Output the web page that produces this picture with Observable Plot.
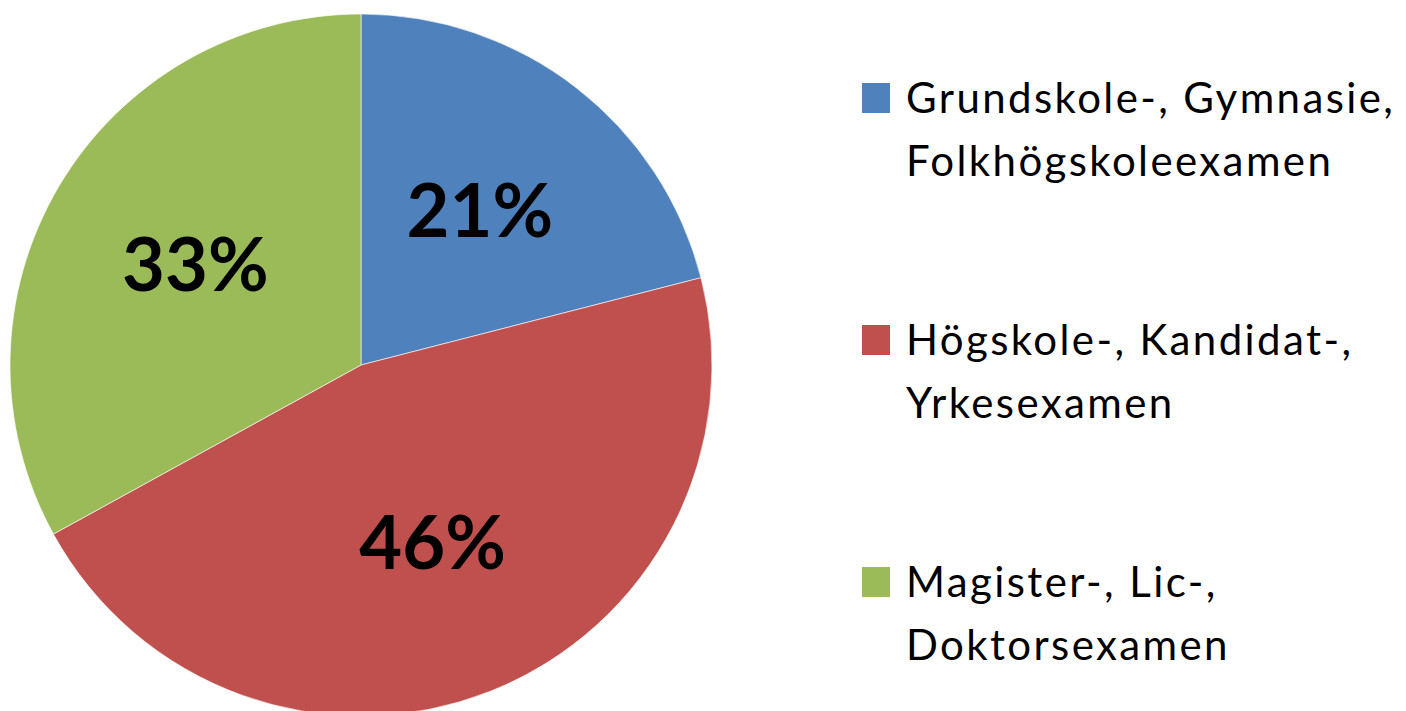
<!DOCTYPE html>
<html><head><meta charset="utf-8">
<script src="https://cdn.jsdelivr.net/npm/d3@7"></script>
<script src="https://cdn.jsdelivr.net/npm/@observablehq/plot@0.6"></script>
<style>
html,body{margin:0;padding:0;background:#fff;}
#chart{width:1406px;height:711px;overflow:hidden;}
</style>
</head><body><div id="chart"></div>
<script>
// ---- data ----
const categories = [
  "Grundskole-, Gymnasie, Folkhögskoleexamen",
  "Högskole-, Kandidat-, Yrkesexamen",
  "Magister-, Lic-, Doktorsexamen"
];
const legendLines = [
  ["Grundskole-, Gymnasie,", "Folkhögskoleexamen"],
  ["Högskole-, Kandidat-,", "Yrkesexamen"],
  ["Magister-, Lic-,", "Doktorsexamen"]
];
const shares = [21, 46, 33];
const percentLabels = ["21%", "46%", "33%"];
const colors = ["#4F81BD", "#C0504D", "#9BBB59"];

// ---- build ----
const data = categories.map((c, i) => ({category: c, share: shares[i], label: percentLabels[i], lines: legendLines[i]}));
const arcs = d3.pie().sort(null).value(d => d.share)(data);
const labelR = 0.55;
const slices = arcs.map(a => {
  const mid = (a.startAngle + a.endAngle) / 2;
  return {...a.data, startAngle: a.startAngle, endAngle: a.endAngle,
    lx: labelR * Math.sin(mid), ly: labelR * Math.cos(mid)};
});
const colorScale = Plot.scale({color: {domain: categories, range: colors}});
const FONT = "Lato, 'Open Sans', 'Liberation Sans', sans-serif";

function pieMark(index, scales) {
  const cx = scales.x(0), cy = scales.y(0);
  const r = scales.x(1) - scales.x(0);
  const g = d3.create("svg:g").attr("transform", `translate(${cx},${cy})`);
  const arc = d3.arc().innerRadius(0).outerRadius(r);
  g.selectAll("path").data(slices).join("path")
    .attr("d", d => arc(d))
    .attr("fill", d => colorScale.apply(d.category))
    .attr("stroke", "#ffffff")
    .attr("stroke-opacity", 0.6)
    .attr("stroke-width", 1);
  return g.node();
}

function legendMark() {
  const g = d3.create("svg:g").attr("font-family", FONT).attr("text-anchor", "start");
  const x0 = 862, top0 = 113, step = 242, lineH = 63;
  data.forEach((d, i) => {
    const base = top0 + i * step;
    g.append("rect").attr("x", x0).attr("y", base - 30).attr("width", 28).attr("height", 30)
      .attr("fill", colorScale.apply(d.category));
    d.lines.forEach((t, j) => {
      g.append("text").attr("x", x0 + 44).attr("y", base + j * lineH)
        .attr("font-size", 42).attr("letter-spacing", "2.4px")
        .attr("fill", "#000").text(t);
    });
  });
  return g.node();
}

const plot = Plot.plot({
  width: 1406, height: 711, margin: 0,
  style: {background: "#fff", fontFamily: FONT},
  x: {domain: [-1, 1], range: [10, 712], axis: null},
  y: {domain: [-1, 1], range: [716, 14], axis: null},
  marks: [
    pieMark,
    Plot.text(slices, {x: "lx", y: "ly", text: "label", fontSize: 74, fontWeight: "bold", fill: "#000", fontFamily: FONT}),
    legendMark
  ]
});
document.getElementById("chart").append(plot);
</script>
</body></html>
